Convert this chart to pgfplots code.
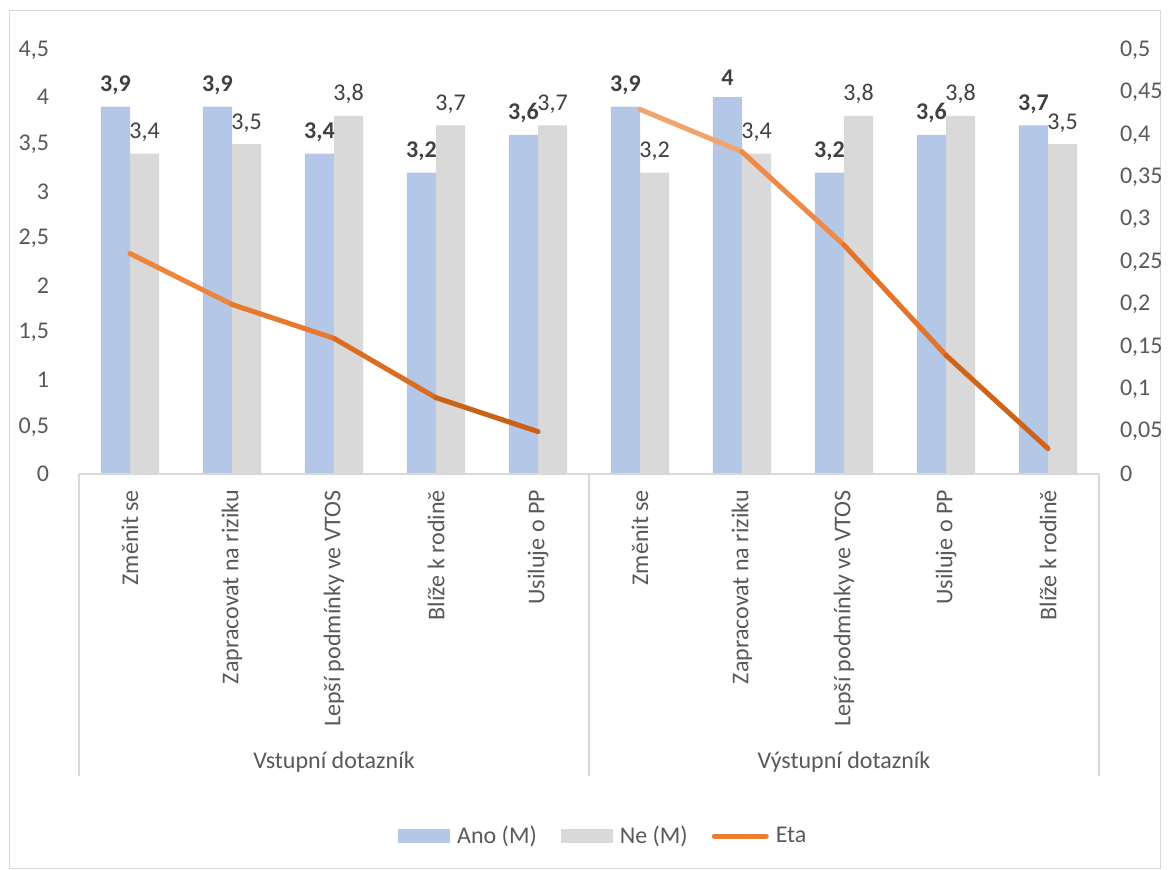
\documentclass[border=0pt]{standalone}
\usepackage{pgfplots}
\usepackage{pgfplotstable}
\pgfplotsset{compat=1.18}
\usepackage{fontspec}
\setmainfont{Carlito}
\definecolor{ano}{HTML}{B4C7E7}
\definecolor{ne}{HTML}{D9D9D9}
\definecolor{txt}{HTML}{595959}
\definecolor{lbl}{HTML}{404040}
\definecolor{axgray}{HTML}{D9D9D9}
\definecolor{etamid}{HTML}{ED7D31}

\pgfplotstableread{
x ano ne
0 3.9 3.4
1 3.9 3.5
2 3.4 3.8
3 3.2 3.7
4 3.6 3.7
5 3.9 3.2
6 4.0 3.4
7 3.2 3.8
8 3.6 3.8
9 3.7 3.5
}\bars

\pgfplotstableread{
x eta m
0 0.26 0.35
1 0.20 0.50
2 0.16 0.65
3 0.09 0.82
4 0.05 1.00
}\etaA

\pgfplotstableread{
x eta m
5 0.43 0.00
6 0.38 0.25
7 0.27 0.50
8 0.14 0.75
9 0.03 1.00
}\etaB

\begin{document}
\begin{tikzpicture}
\useasboundingbox (-39.5pt,237pt) rectangle (545.5pt,-197.5pt);
\draw[axgray, line width=0.5pt] (-34.5pt,232pt) rectangle (540.5pt,-197pt);
\begin{axis}[
  at={(0pt,0pt)}, anchor=south west,
  scale only axis, width=510pt, height=212pt,
  xmin=-0.5, xmax=9.5, ymin=0, ymax=4.5,
  clip=false,
  ybar=0pt, bar width=14.6pt,
  axis line style={draw=none},
  major tick length=0pt,
  font=\fontsize{12}{14}\selectfont,
  ytick={0,0.5,1,1.5,2,2.5,3,3.5,4,4.5},
  yticklabels={0,{0,5},1,{1,5},2,{2,5},3,{3,5},4,{4,5}},
  yticklabel style={text=txt, xshift=-11.5pt},
  xtick={0,1,2,3,4,5,6,7,8,9},
  xticklabels={Změnit se, Zapracovat na riziku, Lepší podmínky ve VTOS, Blíže k rodině, Usiluje o PP, Změnit se, Zapracovat na riziku, Lepší podmínky ve VTOS, Usiluje o PP, Blíže k rodině},
  xticklabel style={rotate=90, anchor=east, text=txt},
  xticklabel shift=4.5pt,
  /pgf/number format/use comma,
  /pgf/number format/assume math mode=true,
  nodes near coords,
  nodes near coords style={anchor=south, yshift=2.5pt, text=lbl, font=\fontsize{12}{14}\selectfont},
  legend columns=3,
  legend style={at={(axis description cs:0.515,-0.854)}, anchor=center, draw=none, fill=none, text=txt, font=\fontsize{12}{14}\selectfont,
    /tikz/every even column/.append style={column sep=10pt},
    /tikz/every odd column/.append style={column sep=1.5pt}},
]
\addplot[fill=ano, draw=none, nodes near coords style={font=\fontsize{12}{14}\selectfont\bfseries},
  legend image code/.code={\fill[ano] (0pt,-3.5pt) rectangle (26pt,3.5pt);}]
  table[x=x, y=ano] \bars;
\addplot[fill=ne, draw=none,
  legend image code/.code={\fill[ne] (0pt,-3.5pt) rectangle (26pt,3.5pt);}]
  table[x=x, y=ne] \bars;
\addlegendimage{legend image code/.code={\draw[etamid, line width=2.5pt, line cap=round] (0pt,0pt) -- (26pt,0pt);}}
\legend{Ano (M), Ne (M), Eta}
\draw[axgray, line width=0.6pt] (axis cs:-0.5,0) -- (axis cs:9.5,0);
\draw[axgray, line width=0.6pt] (axis cs:-0.5,0) -- ++(0pt,-151pt);
\draw[axgray, line width=0.6pt] (axis cs:4.5,0) -- ++(0pt,-151pt);
\draw[axgray, line width=0.6pt] (axis cs:9.5,0) -- ++(0pt,-151pt);
\node[text=txt] at ([yshift=-144pt]axis cs:2,0) {Vstupní dotazník};
\node[text=txt] at ([yshift=-144pt]axis cs:7,0) {Výstupní dotazník};
\end{axis}
\begin{axis}[
  at={(0pt,0pt)}, anchor=south west,
  scale only axis, width=510pt, height=212pt,
  xmin=-0.5, xmax=9.5, ymin=0, ymax=0.5,
  hide x axis,
  axis line style={draw=none},
  major tick length=0pt,
  font=\fontsize{12}{14}\selectfont,
  yticklabel pos=right,
  ytick={0,0.05,0.1,0.15,0.2,0.25,0.3,0.35,0.4,0.45,0.5},
  yticklabels={0,{0,05},{0,1},{0,15},{0,2},{0,25},{0,3},{0,35},{0,4},{0,45},{0,5}},
  yticklabel style={text=txt, xshift=7pt},
  colormap={eta}{rgb255=(244,177,131) rgb255=(237,125,49) rgb255=(197,90,17)},
  point meta min=0, point meta max=1,
]
\addplot[mesh, line width=2.5pt, line cap=round, line join=round, point meta=\thisrow{m}] table[x=x, y=eta] \etaA;
\addplot[mesh, line width=2.5pt, line cap=round, line join=round, point meta=\thisrow{m}] table[x=x, y=eta] \etaB;
\end{axis}
\end{tikzpicture}
\end{document}
